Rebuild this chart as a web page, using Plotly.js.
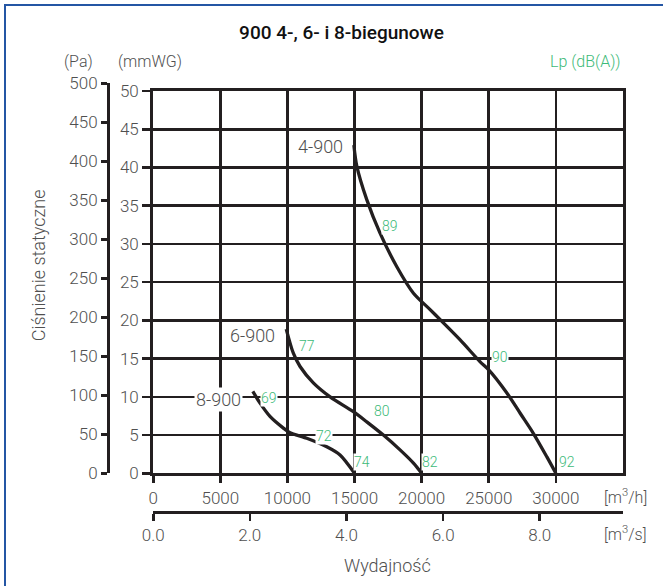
<!DOCTYPE html>
<html>
<head>
<meta charset="utf-8">
<script src="https://cdn.plot.ly/plotly-3.0.1.min.js"></script>
<style>html,body{margin:0;padding:0;background:#fff;}#chart{width:663px;height:586px;}</style>
</head>
<body>
<div id="chart"></div>
<script>
// ---------- data ----------
const flowTicks = [0, 5000, 10000, 15000, 20000, 25000, 30000];           // m3/h
const flowSecTicks = [0, 2, 4, 6, 8];                                     // m3/s
const flowSecTickText = ['0.0', '2.0', '4.0', '6.0', '8.0'];
const paTicks = [0, 50, 100, 150, 200, 250, 300, 350, 400, 450, 500];     // Pa
const mmTicks = [0, 5, 10, 15, 20, 25, 30, 35, 40, 45, 50];               // mmWG

const fan4Flow = [14950, 15170, 15910, 16900, 18150, 19390, 20630, 21380, 22870, 24360, 24980, 26350, 27340, 28330, 29330, 30000];
const fan4Pa   = [421, 394, 351, 308, 265, 231, 210, 197, 171, 143, 133, 103, 77, 51, 21, 0];
const fan6Flow = [9910, 10440, 10940, 11930, 13180, 14910, 15910, 17150, 18390, 19390, 20000];
const fan6Pa   = [185, 154, 137, 116, 98, 79, 66, 49, 30, 13, 0];
const fan8Flow = [7420, 7960, 8700, 9700, 10200, 11440, 12930, 13920, 15000];
const fan8Pa   = [105, 90, 73, 58, 52, 45, 34, 23.5, 0];

const fanNames = ['4-900', '6-900', '8-900'];
const fanNameFlow = [14290, 9200, 6670];
const fanNamePa = [419, 177, 95];

const lpText = ['89', '90', '92', '77', '80', '82', '69', '72', '74'];
const lpFlow = [17650, 25850, 30820, 11440, 17030, 20630, 8630, 12730, 15590];
const lpPa   = [317, 149, 14, 163, 80, 14, 97, 48, 14];

// ---------- layout geometry ----------
const L = 108, T = 83, W = 515, H = 429;
const fx = px => (px - L) / W;
const fy = py => (T + H - py) / H;
const PA_PER_MMWG = 9.80665;
const xDom = [fx(153.2), 1];
const yDom = [fy(473.3), fy(91)];
const y2Top = yDom[0] + (yDom[1] - yDom[0]) * (500 / PA_PER_MMWG) / 50;
const toMm = v => v / PA_PER_MMWG;

const INK = '#231f20', GREY = '#505050', GREEN = '#3dba78';
const FONT = 'Roboto, "Liberation Sans", sans-serif';
const LIGHT = 300;

const curve = (fl, pa) => ({
  x: fl, y: pa.map(toMm), xaxis: 'x', yaxis: 'y', type: 'scatter', mode: 'lines',
  line: {color: INK, width: 3.3, shape: 'spline', smoothing: 0.8},
  hoverinfo: 'skip', showlegend: false
});

const data = [
  curve(fan4Flow, fan4Pa),
  curve(fan6Flow, fan6Pa),
  curve(fan8Flow, fan8Pa),
  {x: [null], y: [null], xaxis: 'x2', yaxis: 'y2', type: 'scatter', mode: 'lines', showlegend: false, hoverinfo: 'skip'}
];

const annotations = [];
fanNames.forEach((t, i) => annotations.push({
  text: t, x: fanNameFlow[i], y: toMm(fanNamePa[i]), xref: 'x', yref: 'y',
  xanchor: 'right', yanchor: 'middle', showarrow: false,
  bgcolor: '#fff', borderpad: 1, font: {family: FONT, size: 18, color: GREY, weight: LIGHT}
}));
lpText.forEach((t, i) => annotations.push({
  text: t, x: lpFlow[i], y: toMm(lpPa[i]), xref: 'x', yref: 'y',
  xanchor: 'center', yanchor: 'middle', showarrow: false,
  bgcolor: '#fff', borderpad: 0, font: {family: FONT, size: 14, color: GREEN, weight: LIGHT}
}));
const pText = (text, x, y, opts) => annotations.push(Object.assign({
  text, x: fx(x), y: fy(y), xref: 'paper', yref: 'paper', showarrow: false,
  xanchor: 'center', yanchor: 'middle', font: {family: FONT, size: 16, color: GREY, weight: LIGHT}
}, opts || {}));
pText('(Pa)', 78.7, 61.7);
pText('(mmWG)', 150, 61.7);
pText('Lp (dB(A))', 623.3, 61.7, {xanchor: 'right', font: {family: FONT, size: 16, color: GREEN, weight: LIGHT}});
pText('[m<sup>3</sup>/h]', 601.7, 496.7, {xanchor: 'left'});
pText('[m<sup>3</sup>/s]', 601.7, 533.3, {xanchor: 'left'});
pText('Wydajność', 387, 565, {font: {family: FONT, size: 18, color: GREY, weight: LIGHT}});
pText('Ciśnienie statyczne', 38.3, 265, {textangle: -90, font: {family: FONT, size: 18, color: GREY, weight: LIGHT}});

const axBase = {
  showline: true, linecolor: INK, linewidth: 3, ticks: 'outside', tickcolor: INK, tickwidth: 2.6,
  zeroline: false, fixedrange: true, tickfont: {family: FONT, size: 17, color: GREY, weight: LIGHT}
};

const layout = {
  width: 663, height: 586,
  margin: {l: L, r: 663 - L - W, t: T, b: 586 - T - H, pad: 0},
  paper_bgcolor: '#fff', plot_bgcolor: 'rgba(0,0,0,0)',
  showlegend: false,
  font: {family: FONT, size: 17, color: GREY},
  title: {text: '900 4-, 6- i 8-biegunowe', xref: 'container', yref: 'container',
          x: 341.5 / 663, y: 1 - 32 / 586, xanchor: 'center', yanchor: 'middle',
          font: {family: FONT, size: 19, color: '#111', weight: 500}},
  xaxis: Object.assign({}, axBase, {
    domain: xDom, range: [0, 35000], anchor: 'y', tickvals: flowTicks,
    ticktext: flowTicks.map(String), ticklen: 7, mirror: true,
    showgrid: true, gridcolor: INK, gridwidth: 2.6
  }),
  yaxis: Object.assign({}, axBase, {
    domain: yDom, range: [0, 50], anchor: 'x', tickvals: mmTicks,
    ticktext: mmTicks.map(String), ticklen: 8, mirror: true,
    showgrid: true, gridcolor: INK, gridwidth: 2.6
  }),
  xaxis2: Object.assign({}, axBase, {
    domain: xDom, range: [0, 35000 / 3600], anchor: 'free', position: 0,
    tickvals: flowSecTicks, ticktext: flowSecTickText, ticklen: 7, showgrid: false
  }),
  yaxis2: Object.assign({}, axBase, {
    domain: [yDom[0], y2Top], range: [0, 500], anchor: 'free', position: 0, side: 'left',
    tickvals: paTicks, ticktext: paTicks.map(String), ticklen: 6, showgrid: false
  }),
  annotations,
  shapes: [
    {type: 'line', xref: 'paper', yref: 'paper', x0: fx(5), x1: fx(5), y0: fy(4), y1: fy(600), line: {color: '#2456a4', width: 2}},
    {type: 'line', xref: 'paper', yref: 'paper', x0: fx(4), x1: fx(700), y0: fy(5), y1: fy(5), line: {color: '#2456a4', width: 2}}
  ]
};

Plotly.newPlot('chart', data, layout, {displayModeBar: false, staticPlot: true});
</script>
</body>
</html>
